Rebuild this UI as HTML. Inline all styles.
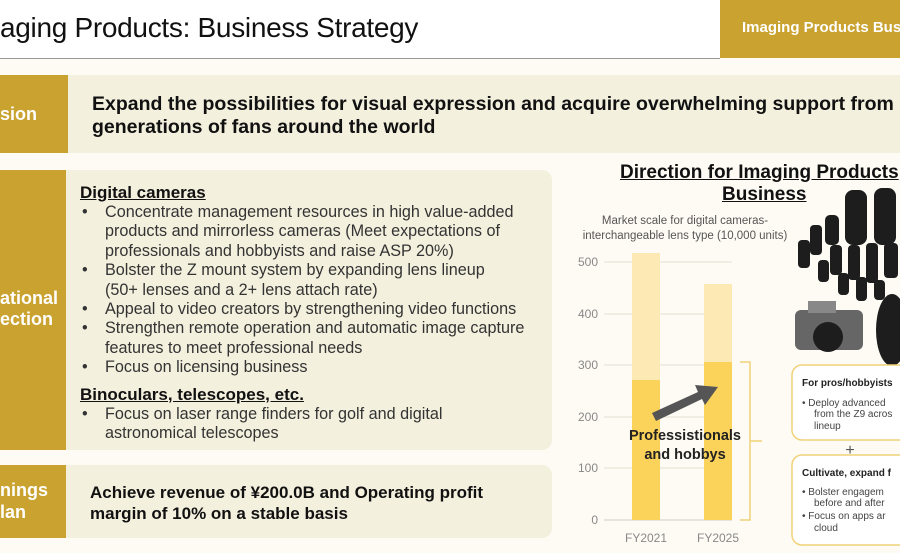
<!DOCTYPE html>
<html><head><meta charset="utf-8"><style>
*{margin:0;padding:0;box-sizing:border-box}
body{width:900px;height:553px;overflow:hidden;background:#fff;font-family:"Liberation Sans",sans-serif;position:relative;color:#222}
.a{position:absolute;white-space:nowrap}
.gold{background:#c9a22f}
.pan{background:#f4f0de}
.lbl{color:#fff;font-weight:bold;font-size:18px;line-height:22px}
.b{font-size:16.2px;line-height:19.4px;color:#333}
.b div{position:relative;padding-left:25px}
.b div.d:before{content:"•";position:absolute;left:2px}
h3{font-size:17px;text-decoration:underline;font-weight:bold;color:#111;line-height:20px}
</style></head><body>
<div class="a" style="left:0;top:0;width:900px;height:553px;background:#fdfbf4"></div>
<div class="a" style="left:0;top:0;width:900px;height:58px;background:#fff"></div>
<div class="a" style="left:0;top:12px;font-size:28px;color:#111;letter-spacing:-0.3px">aging Products: Business Strategy</div>
<div class="a" style="left:0;top:58px;width:720px;height:1px;background:#999"></div>
<div class="a gold" style="left:720px;top:0;width:180px;height:58px"></div>
<div class="a" style="left:742px;top:19px;color:#fff;font-weight:bold;font-size:15px">Imaging Products Bus</div>

<div class="a gold" style="left:0;top:75px;width:68px;height:78px"></div>
<div class="a lbl" style="left:0;top:103px">sion</div>
<div class="a pan" style="left:68px;top:75px;width:832px;height:78px"></div>
<div class="a" style="left:92px;top:93px;font-size:19.5px;font-weight:bold;line-height:23px;color:#111">Expand the possibilities for visual expression and acquire overwhelming support from<br>generations of fans around the world</div>

<div class="a gold" style="left:0;top:170px;width:66px;height:280px"></div>
<div class="a lbl" style="left:0;top:288px;line-height:21px">ational<br>ection</div>
<div class="a pan" style="left:66px;top:170px;width:486px;height:280px;border-radius:0 10px 10px 0"></div>
<div class="a b" style="left:80px;top:183px">
<h3>Digital cameras</h3>
<div class="d">Concentrate management resources in high value-added</div>
<div>products and mirrorless cameras (Meet expectations of</div>
<div>professionals and hobbyists and raise ASP 20%)</div>
<div class="d">Bolster the Z mount system by expanding lens lineup</div>
<div>(50+ lenses and a 2+ lens attach rate)</div>
<div class="d">Appeal to video creators by strengthening video functions</div>
<div class="d">Strengthen remote operation and automatic image capture</div>
<div>features to meet professional needs</div>
<div class="d">Focus on licensing business</div>
<h3 style="margin-top:7px">Binoculars, telescopes, etc.</h3>
<div class="d">Focus on laser range finders for golf and digital</div>
<div>astronomical telescopes</div>
</div>

<div class="a gold" style="left:0;top:465px;width:66px;height:73px"></div>
<div class="a lbl" style="left:0;top:479px">nings<br>lan</div>
<div class="a pan" style="left:66px;top:465px;width:486px;height:73px;border-radius:0 10px 10px 0"></div>
<div class="a" style="left:90px;top:482px;font-size:17px;font-weight:bold;line-height:21px;color:#111">Achieve revenue of ¥200.0B and Operating profit<br>margin of 10% on a stable basis</div>

<svg class="a" style="left:790px;top:185px" width="110" height="180">
<g fill="#1d1d1d">
<rect x="55" y="5" width="22" height="55" rx="8"/><rect x="84" y="3" width="22" height="57" rx="8"/>
<rect x="35" y="30" width="14" height="30" rx="5"/>
<rect x="20" y="40" width="12" height="30" rx="4"/><rect x="8" y="55" width="12" height="28" rx="4"/>
<rect x="40" y="60" width="12" height="30" rx="4"/><rect x="58" y="60" width="12" height="35" rx="4"/><rect x="76" y="58" width="12" height="40" rx="4"/><rect x="94" y="58" width="14" height="35" rx="4"/>
<rect x="28" y="75" width="11" height="22" rx="4"/><rect x="48" y="88" width="11" height="22" rx="4"/><rect x="66" y="92" width="11" height="24" rx="4"/><rect x="84" y="95" width="11" height="20" rx="4"/>
<rect x="5" y="125" width="68" height="40" rx="6" fill="#666"/>
<rect x="18" y="116" width="28" height="12" fill="#888"/>
<circle cx="38" cy="152" r="15"/>
<ellipse cx="102" cy="145" rx="16" ry="36"/>
</g>
</svg>

<div class="a" style="left:620px;top:161px;font-size:19px;font-weight:bold;text-decoration:underline;color:#111;line-height:23px">Direction for Imaging Products</div>
<div class="a" style="left:722px;top:184px;font-size:19px;font-weight:bold;text-decoration:underline;color:#111">Business</div>
<div class="a" style="left:575px;top:214px;font-size:11.5px;color:#555;text-align:center;line-height:15px;width:220px">Market scale for digital cameras-<br>interchangeable lens type (10,000 units)</div>

<svg class="a" style="left:560px;top:240px" width="340" height="313">
<g font-family="Liberation Sans" font-size="12" fill="#888" text-anchor="end">
<text x="38" y="26">500</text><text x="38" y="78">400</text><text x="38" y="129">300</text><text x="38" y="181">200</text><text x="38" y="232">100</text><text x="38" y="284">0</text>
</g>
<g stroke="#e4e0d0"><line x1="44" x2="172" y1="22" y2="22"/><line x1="44" x2="172" y1="74" y2="74"/><line x1="44" x2="172" y1="125" y2="125"/><line x1="44" x2="172" y1="177" y2="177"/><line x1="44" x2="172" y1="228" y2="228"/><line x1="44" x2="172" y1="280" y2="280" stroke="#ccc"/></g>
<rect x="72" y="13" width="28" height="127" fill="#fde9b3"/>
<rect x="72" y="140" width="28" height="140" fill="#fbd25a"/>
<rect x="144" y="44" width="28" height="78" fill="#fde9b3"/>
<rect x="144" y="122" width="28" height="158" fill="#fbd25a"/>
<polygon points="92,173 138,152 135,145 158,147 145,165 142,159 96,181" fill="#555"/>
<g font-family="Liberation Sans" font-size="12" fill="#888" text-anchor="middle"><text x="86" y="302">FY2021</text><text x="158" y="302">FY2025</text></g>
<path d="M180 122 H190 V280 H180 M190 201 H202" stroke="#f0d27a" fill="none" stroke-width="1.5"/>
<rect x="232" y="125" width="120" height="75" rx="10" fill="#fff" stroke="#f0d27a" stroke-width="1.5"/>
<rect x="232" y="215" width="120" height="90" rx="10" fill="#fff" stroke="#f0d27a" stroke-width="1.5"/>
<text x="290" y="215" font-size="16" fill="#555" text-anchor="middle">+</text>
<g font-family="Liberation Sans" font-size="10" fill="#444">
<text x="242" y="146" font-weight="bold" fill="#222">For pros/hobbyists</text>
<text x="242" y="166">•  Deploy advanced</text><text x="254" y="177">from the Z9 acros</text><text x="254" y="189">lineup</text>
<text x="242" y="236" font-weight="bold" fill="#222">Cultivate, expand f</text>
<text x="242" y="255">•  Bolster engagem</text><text x="254" y="266">before and after</text>
<text x="242" y="279">•  Focus on apps ar</text><text x="254" y="291">cloud</text>
</g>
</svg>
<div class="a" style="left:620px;top:427px;font-size:14.5px;font-weight:bold;color:#222;text-align:center;width:130px;line-height:19px">Professistionals<br>and hobbys</div>
</body></html>
